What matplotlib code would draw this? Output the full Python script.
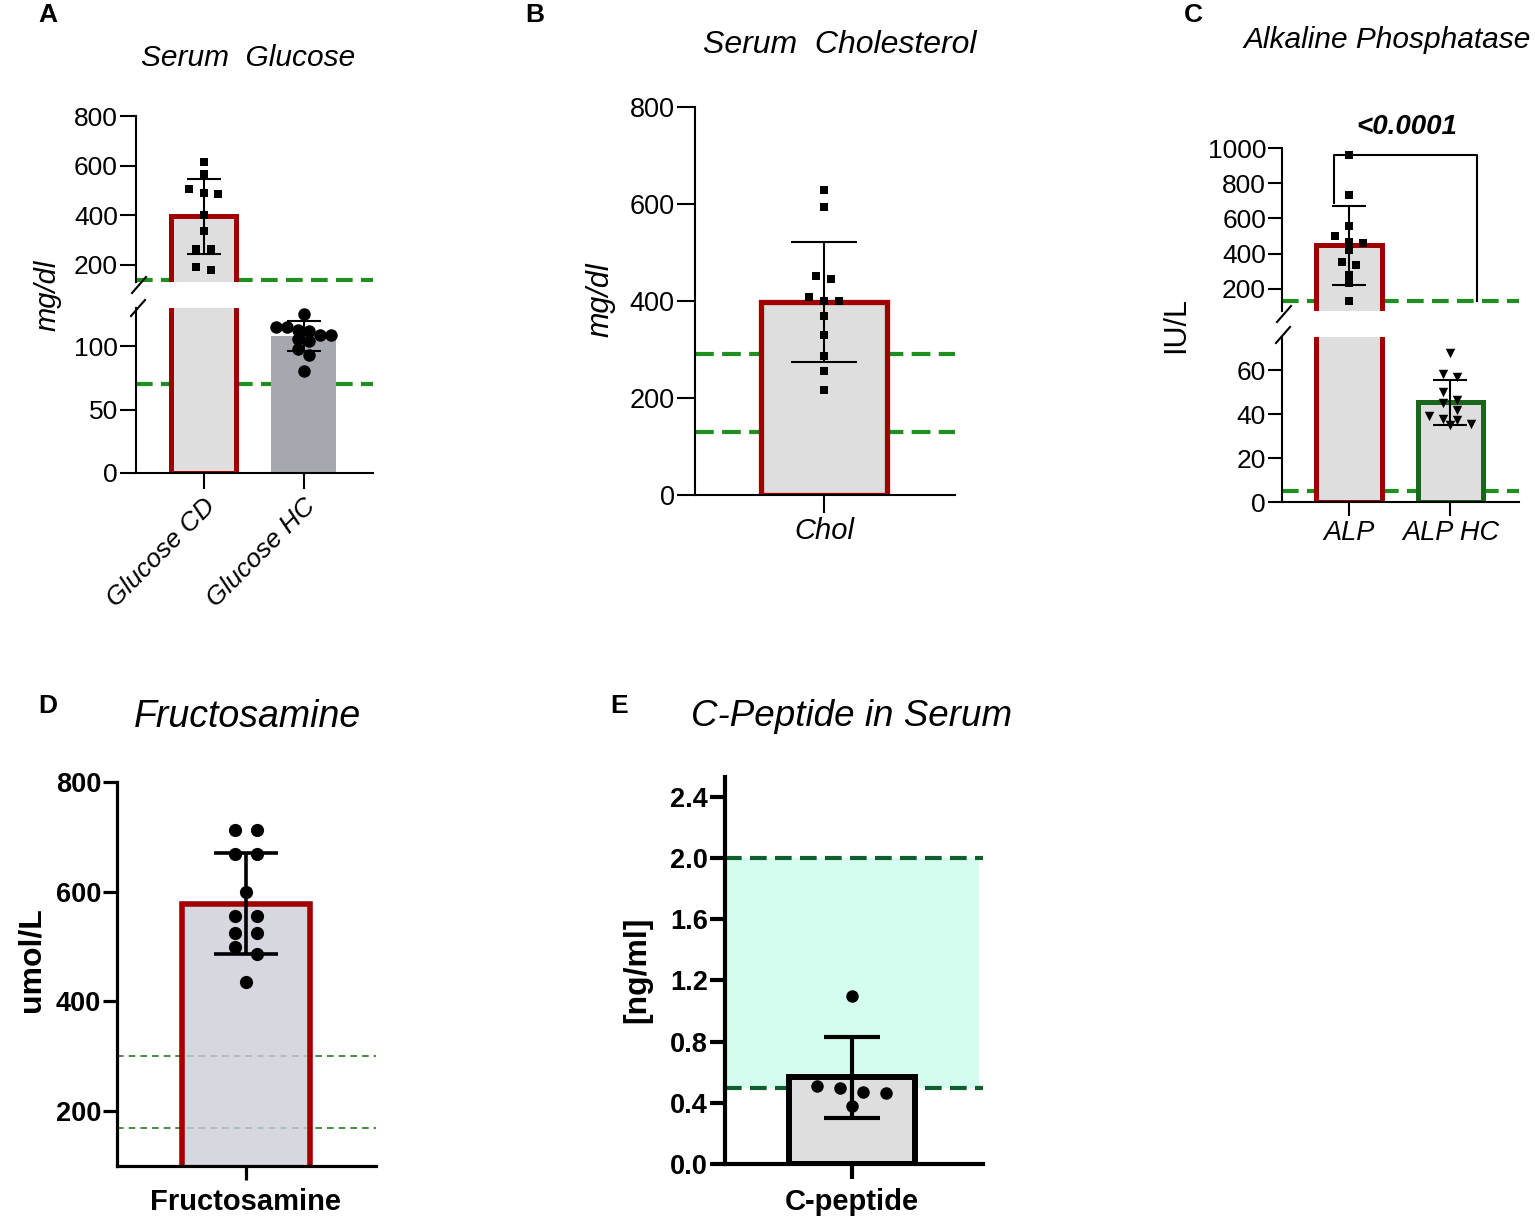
import numpy as np
import matplotlib
matplotlib.use('Agg')
import matplotlib.pyplot as plt
from matplotlib.lines import Line2D

plt.rcParams['font.family'] = ['Liberation Sans', 'DejaVu Sans']

# ------------------------------------------------------------------ data
glucose_labels = ['Glucose CD', 'Glucose HC']
glucose_cd = [614, 566, 506, 490, 484, 402, 335, 264, 264, 192, 179]
glucose_hc = [125, 115, 115, 113, 112, 109, 109, 105.5, 104, 98, 93, 80.5]
glucose_mean = [395, 108]
glucose_sd = [152, 11.5]
glucose_ref = [70, 140]

chol_labels = ['Chol']
chol_values = [628, 593, 451, 446, 408, 400, 400, 369, 329, 287, 255, 217]
chol_mean = [398]
chol_sd = [124]
chol_ref = [130, 290]

alp_labels = ['ALP', 'ALP HC']
alp_cd = [960, 733, 559, 500, 469, 459, 421, 351, 336, 279, 232, 134]
alp_hc = [67.9, 58.2, 56.7, 49.9, 46.3, 44.8, 41.7, 39.1, 37.6, 37.1, 35.6, 34.8]
alp_mean = [447, 45.3]
alp_sd = [222, 10.2]
alp_ref = [5, 130]
alp_p = '<0.0001'

fru_labels = ['Fructosamine']
fru_values = [713, 713, 669, 669, 600, 555, 555, 524, 524, 500, 487, 436]
fru_mean = [578]
fru_sd = [92]
fru_ref = [170, 300]

cpep_labels = ['C-peptide']
cpep_values = [1.10, 0.513, 0.497, 0.472, 0.463, 0.376]
cpep_mean = [0.567]
cpep_sd = [0.266]
cpep_ref = [0.5, 2.0]

# ------------------------------------------------------------------ figure
W, H = 1535, 1224
DPI = 100
fig = plt.figure(figsize=(W / DPI, H / DPI), dpi=DPI)

RED = '#a00000'
DKGREEN = '#1a661a'
GREEN = '#1f8f1f'
LIGHT = '#dedede'


def pax(x0, y0, x1, y1):
    return fig.add_axes([x0 / W, 1 - y1 / H, (x1 - x0) / W, (y1 - y0) / H])


def ftext(x, y, s, **kw):
    kw.setdefault('ha', 'center')
    kw.setdefault('va', 'center')
    return fig.text(x / W, 1 - y / H, s, **kw)


def slash(xc, yc, dx=8, dy=8, lw=1.5):
    fig.add_artist(Line2D([(xc - dx) / W, (xc + dx) / W],
                          [1 - (yc + dy) / H, 1 - (yc - dy) / H],
                          transform=fig.transFigure, color='k', lw=lw))


def style(ax, spw, tlen, tw, fs, bold=False, bottom=True):
    for s in ('top', 'right'):
        ax.spines[s].set_visible(False)
    ax.spines['left'].set_linewidth(spw)
    ax.spines['bottom'].set_linewidth(spw)
    ax.spines['bottom'].set_visible(bottom)
    ax.tick_params(axis='y', length=tlen, width=tw, labelsize=fs, pad=1.5)
    ax.tick_params(axis='x', length=tlen, width=tw, labelsize=fs, pad=3)
    if not bottom:
        ax.tick_params(axis='x', bottom=False, labelbottom=False)
    ax.patch.set_alpha(0)
    if bold:
        for t in ax.get_yticklabels() + ax.get_xticklabels():
            t.set_fontweight('bold')


def swarm_x(ax, xc, vals, thresh, spacing):
    vals = np.asarray(vals, float)
    n = len(vals)
    pts = ax.transData.transform(np.column_stack([np.full(n, xc), vals]))
    order = np.argsort(-vals, kind='stable')
    rows = []
    for i in order:
        if rows and pts[rows[-1][0], 1] - pts[i, 1] < thresh:
            rows[-1].append(i)
        else:
            rows.append([i])
    xpx = pts[:, 0].copy()
    for r in rows:
        k = len(r)
        for j, i in enumerate(r):
            xpx[i] += (j - (k - 1) / 2) * spacing
    return ax.transData.inverted().transform(np.column_stack([xpx, pts[:, 1]]))[:, 0]


# ================================================================== A
axAu = pax(136, 116, 373, 282)
axAl = pax(136, 308, 373, 473)
xA = np.arange(len(glucose_labels))
for ax in (axAu, axAl):
    ax.set_xlim(-0.675, 1.695)
    ax.bar(xA[0], glucose_mean[0], width=0.655, facecolor=LIGHT, edgecolor=RED,
           linewidth=3.6, zorder=2)
    ax.bar(xA[1], glucose_mean[1], width=0.655, facecolor='#a7a7af',
           edgecolor='none', zorder=2)
    for r in glucose_ref:
        ax.axhline(r, color=GREEN, lw=3, dashes=(4, 2), zorder=1)
    ax.errorbar(xA, glucose_mean, yerr=glucose_sd, fmt='none', ecolor='k',
                elinewidth=1.5, capsize=12, capthick=1.5, zorder=3)
axAu.set_ylim(130, 800)
axAl.set_ylim(0, 130)
axAu.set_yticks([200, 400, 600, 800])
axAl.set_yticks([0, 50, 100])
axAl.set_xticks(xA)
axAl.set_xticklabels(glucose_labels, rotation=45, ha='right', va='top',
                     rotation_mode='anchor', style='italic')
style(axAu, 1.5, 11.5, 1.5, 19, bottom=False)
style(axAl, 1.5, 11.5, 1.5, 19)
axAl.tick_params(axis='x', labelsize=19, pad=4)
axAu.scatter(swarm_x(axAu, xA[0], glucose_cd, 9, 14.5), glucose_cd, marker='s',
             s=5.6 ** 2, color='k', zorder=4, clip_on=False, linewidths=0)
axAl.scatter(swarm_x(axAl, xA[1], glucose_hc, 8.4, 11), glucose_hc, marker='o',
             s=9 ** 2, color='k', zorder=4, clip_on=False, linewidths=0)
slash(139, 285, 7, 8)
slash(138, 308, 7, 8)
ftext(248, 58, 'Serum  Glucose', style='italic', fontsize=21.5)
ftext(48, 295, 'mg/dl', style='italic', fontsize=21, rotation=90)
ftext(48, 15, 'A', fontweight='bold', fontsize=19)

# ================================================================== B
axB = pax(695, 107, 955, 495)
xB = np.arange(len(chol_labels))
axB.set_xlim(-0.508, 0.516)
axB.set_ylim(0, 800)
axB.bar(xB, chol_mean, width=0.5, facecolor=LIGHT, edgecolor=RED,
        linewidth=3.8, zorder=2)
for r in chol_ref:
    axB.axhline(r, color=GREEN, lw=3, dashes=(4.5, 2), zorder=1)
axB.errorbar(xB, chol_mean, yerr=chol_sd, fmt='none', ecolor='k',
             elinewidth=1.5, capsize=24, capthick=1.5, zorder=3)
axB.scatter(swarm_x(axB, xB[0], chol_values, 9, 15), chol_values, marker='s',
            s=6.4 ** 2, color='k', zorder=4, clip_on=False, linewidths=0)
axB.set_yticks([0, 200, 400, 600, 800])
axB.set_xticks(xB)
axB.set_xticklabels(chol_labels, style='italic')
style(axB, 1.5, 13, 1.5, 19.5)
axB.tick_params(axis='x', labelsize=21)
ftext(840, 45, 'Serum  Cholesterol', style='italic', fontsize=23)
ftext(600, 300, 'mg/dl', style='italic', fontsize=22, rotation=90)
ftext(535, 15, 'B', fontweight='bold', fontsize=19)

# ================================================================== C
axCu = pax(1282, 148, 1519, 311)
axCl = pax(1282, 337, 1519, 502)
xC = np.arange(len(alp_labels))
for ax in (axCu, axCl):
    ax.set_xlim(-0.66, 1.675)
    ax.bar(xC[0], alp_mean[0], width=0.65, facecolor=LIGHT, edgecolor=RED,
           linewidth=3.6, zorder=2)
    ax.bar(xC[1], alp_mean[1], width=0.65, facecolor=LIGHT, edgecolor=DKGREEN,
           linewidth=3.6, zorder=2)
    for r in alp_ref:
        ax.axhline(r, color=GREEN, lw=3, dashes=(4, 2), zorder=1)
    ax.errorbar(xC, alp_mean, yerr=alp_sd, fmt='none', ecolor='k',
                elinewidth=1.5, capsize=12, capthick=1.5, zorder=3)
axCu.set_ylim(75, 1000)
axCl.set_ylim(0, 75)
axCu.set_yticks([200, 400, 600, 800, 1000])
axCl.set_yticks([0, 20, 40, 60])
axCl.set_xticks(xC)
axCl.set_xticklabels(alp_labels, style='italic')
style(axCu, 1.5, 10, 1.5, 19, bottom=False)
style(axCl, 1.5, 10, 1.5, 19)
axCl.tick_params(axis='x', labelsize=19.5)
axCu.scatter(swarm_x(axCu, xC[0], alp_cd, 8, 14), alp_cd, marker='s',
             s=5.4 ** 2, color='k', zorder=4, clip_on=False, linewidths=0)
axCl.scatter(swarm_x(axCl, xC[1], alp_hc, 8, 14), alp_hc, marker='v',
             s=6.8 ** 2, color='k', zorder=4, clip_on=False, linewidths=0)
axCu.plot([-0.148, -0.148, 1.26, 1.26], [690, alp_cd[0], alp_cd[0], 134],
          color='k', lw=1.5, clip_on=False, zorder=3)
ftext(1407, 127, alp_p, style='italic', fontweight='bold', fontsize=20)
slash(1284, 314, 7, 8)
slash(1283, 335, 7, 8)
ftext(1387, 40, 'Alkaline Phosphatase', style='italic', fontsize=21.5)
ftext(1176, 325, 'IU/L', fontsize=22, rotation=90)
ftext(1193, 15, 'C', fontweight='bold', fontsize=19)

# ================================================================== D
axD = pax(117, 782, 376, 1166)
xD = np.arange(len(fru_labels))
axD.set_xlim(-0.504, 0.508)
axD.set_ylim(100, 800)
for r in fru_ref:
    axD.axhline(r, color='#2a7a2a', lw=1.2, dashes=(4, 3), zorder=1)
axD.bar(xD, fru_mean, width=0.5, facecolor=(0.80, 0.80, 0.84, 0.78),
        edgecolor=RED, linewidth=4, zorder=2)
axD.errorbar(xD, fru_mean, yerr=fru_sd, fmt='none', ecolor='k',
             elinewidth=2.6, capsize=23, capthick=2.6, zorder=3)
axD.scatter(swarm_x(axD, xD[0], fru_values, 10, 22), fru_values, marker='o',
            s=9.5 ** 2, color='k', zorder=4, clip_on=False, linewidths=0)
axD.set_yticks([200, 400, 600, 800])
axD.set_xticks(xD)
axD.set_xticklabels(fru_labels)
style(axD, 2.3, 10, 2.3, 19.5, bold=True)
axD.tick_params(axis='x', labelsize=21, pad=5.5)
ftext(247, 717, 'Fructosamine', style='italic', fontsize=27)
ftext(31, 960, 'umol/L', fontweight='bold', fontsize=23, rotation=90)
ftext(48, 706, 'D', fontweight='bold', fontsize=19)

# ================================================================== E
axE = pax(725, 777, 983, 1164)
xE = np.arange(len(cpep_labels))
axE.set_xlim(-0.504, 0.52)
axE.set_ylim(0, 2.53)
axE.axhspan(cpep_ref[0], cpep_ref[1], xmin=0, xmax=0.984, color='#d4fdf0',
            zorder=0, lw=0)
for r in cpep_ref:
    axE.axhline(r, color='#0e5e2e', lw=3, dashes=(4, 2), zorder=1)
axE.bar(xE, cpep_mean, width=0.5, facecolor=LIGHT, edgecolor='k',
        linewidth=4.3, zorder=2)
axE.errorbar(xE, cpep_mean, yerr=cpep_sd, fmt='none', ecolor='k',
             elinewidth=3, capsize=20, capthick=3, zorder=3)
axE.scatter(swarm_x(axE, xE[0], cpep_values, 12, 23), cpep_values, marker='o',
            s=9 ** 2, color='k', zorder=4, clip_on=False, linewidths=0)
axE.set_yticks(np.arange(0, 2.41, 0.4))
axE.set_yticklabels([f'{v:.1f}' for v in np.arange(0, 2.41, 0.4)])
axE.set_xticks(xE)
axE.set_xticklabels(cpep_labels)
style(axE, 3, 11, 3, 19.5, bold=True)
axE.tick_params(axis='x', labelsize=21, pad=6)
ftext(852, 717, 'C-Peptide in Serum', style='italic', fontsize=26.5)
ftext(637, 970, '[ng/ml]', fontweight='bold', fontsize=23, rotation=90)
ftext(619, 706, 'E', fontweight='bold', fontsize=19)

fig.savefig('out.png', dpi=DPI)
